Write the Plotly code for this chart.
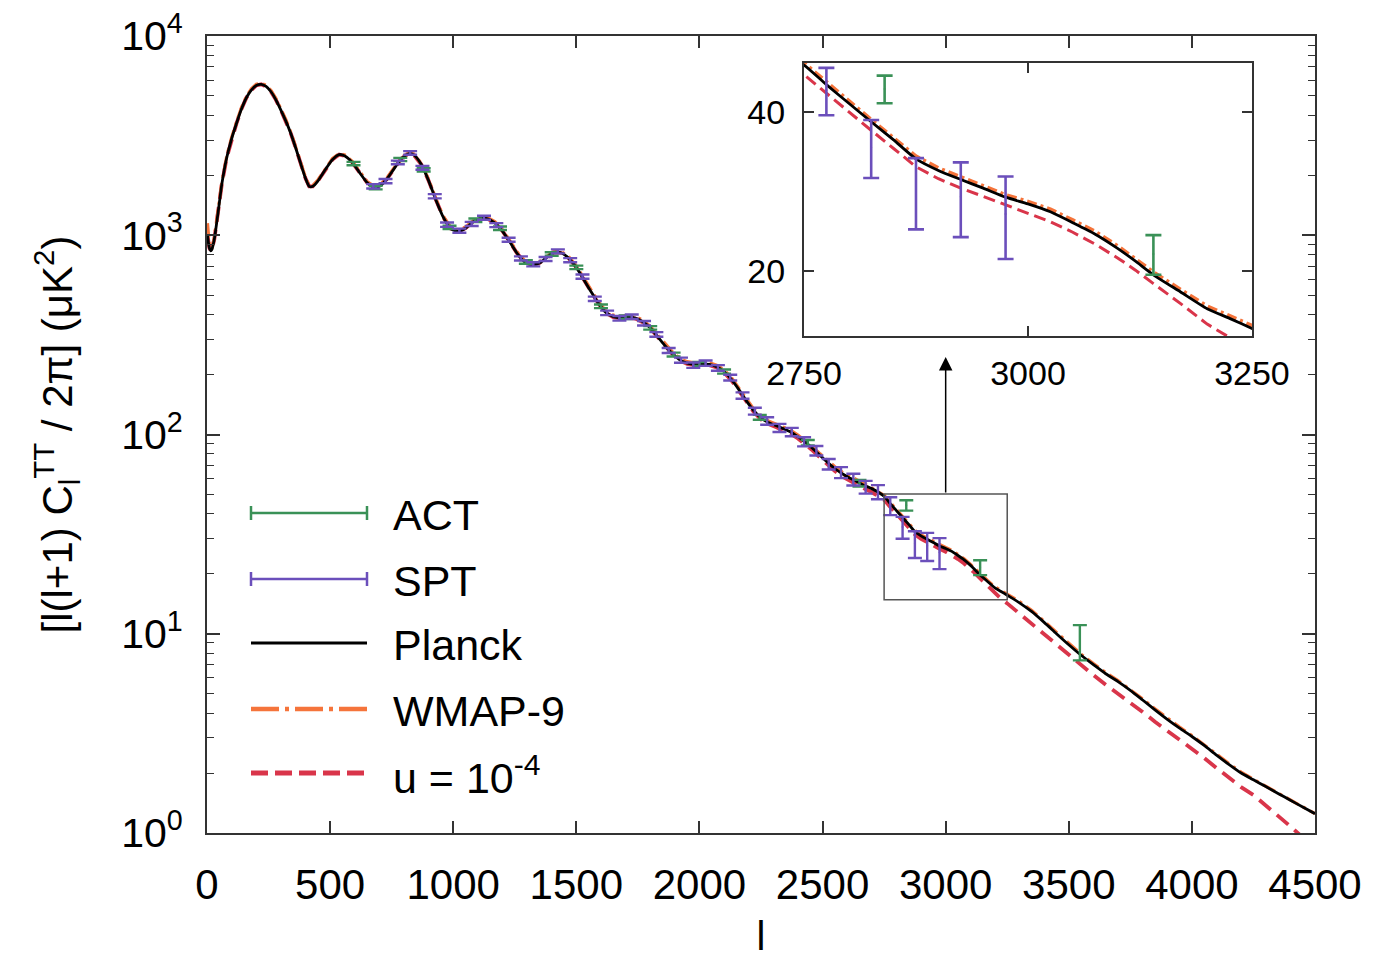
import math
import plotly.graph_objects as go

# ---------------- data ----------------
ell = [2, 5, 10, 15, 20, 30, 40, 50, 60, 80,
       100, 120, 140, 160, 180, 200, 220, 240, 260, 280,
       300, 320, 340, 360, 380, 400, 415, 430, 450, 480,
       510, 537, 560, 590, 620, 650, 680, 700, 730, 760,
       790, 820, 840, 870, 900, 930, 960, 990, 1020, 1050,
       1080, 1110, 1140, 1170, 1200, 1230, 1260, 1290, 1320, 1350,
       1380, 1410, 1440, 1470, 1500, 1530, 1560, 1590, 1620, 1650,
       1680, 1710, 1740, 1770, 1800, 1830, 1860, 1890, 1920, 1950,
       1980, 2010, 2040, 2070, 2100, 2130, 2160, 2190, 2220, 2250,
       2280, 2310, 2340, 2370, 2400, 2430, 2460, 2490, 2520, 2550,
       2580, 2610, 2640, 2670, 2700, 2730, 2750, 2775, 2800, 2825,
       2850, 2875, 2900, 2925, 2950, 2975, 3000, 3025, 3050, 3075,
       3100, 3120, 3140, 3170, 3200, 3225, 3250, 3300, 3350, 3400,
       3450, 3500, 3550, 3600, 3650, 3700, 3750, 3800, 3850, 3900,
       3950, 4000, 4050, 4100, 4150, 4200, 4250, 4300, 4350, 4400,
       4450, 4500]

planck = [1000, 930, 860, 835, 850, 960, 1170, 1450, 1800, 2450,
          3050, 3650, 4300, 4900, 5350, 5650, 5720, 5580, 5250, 4780,
          4250, 3750, 3250, 2750, 2300, 1930, 1760, 1760, 1870, 2130,
          2400, 2540, 2500, 2320, 2060, 1840, 1740, 1760, 1910, 2160,
          2430, 2570, 2530, 2270, 1880, 1500, 1230, 1080, 1045, 1085,
          1165, 1215, 1210, 1150, 1050, 925, 810, 735, 710, 725,
          775, 820, 815, 765, 690, 600, 520, 455, 410, 390,
          385, 388, 384, 368, 343, 310, 279, 255, 237, 228,
          225, 226, 225, 219, 207, 189, 168, 148, 132, 121,
          115, 111, 107, 103, 97.5, 91.5, 85, 78.5, 72.5, 67.5,
          63.5, 60.5, 58, 55.5, 53.5, 51, 49, 45, 41.5, 38.3,
          35.4, 32.6, 31.0, 29.8, 28.7, 27.6, 26.8, 25.9, 24.7, 23.5,
          22.1, 20.9, 19.7, 18.3, 17.0, 16.3, 15.6, 14.3, 12.9, 11.4,
          10.0, 8.8, 7.8, 7.0, 6.3, 5.75, 5.2, 4.65, 4.15, 3.72,
          3.36, 3.05, 2.75, 2.46, 2.21, 2.0, 1.85, 1.71, 1.58, 1.46,
          1.35, 1.25]

wmap9 = [1150, 1000, 880, 845, 860, 975, 1190, 1475, 1830, 2490,
         3100, 3710, 4370, 4980, 5430, 5730, 5800, 5660, 5330, 4850,
         4320, 3810, 3300, 2790, 2330, 1955, 1780, 1780, 1890, 2155,
         2430, 2570, 2530, 2350, 2085, 1860, 1760, 1780, 1935, 2185,
         2460, 2600, 2560, 2300, 1905, 1520, 1245, 1095, 1060, 1100,
         1180, 1232, 1228, 1168, 1066, 940, 823, 747, 721, 736,
         787, 833, 828, 778, 702, 611, 529, 463, 417, 397,
         392, 395, 391, 375, 349, 316, 284, 260, 241, 232,
         229, 230, 229, 223, 211, 193, 171, 151, 134.5, 123,
         117, 113, 109, 105, 99.4, 93.3, 86.7, 80, 74, 68.9,
         64.8, 61.7, 59.2, 56.6, 54.0, 51.5, 49.5, 45.5, 42.0, 38.7,
         35.8, 33.0, 31.35, 30.15, 29.0, 27.9, 27.1, 26.2, 25.0, 23.8,
         22.35, 21.15, 19.95, 18.5, 17.2, 16.5, 15.8, 14.5, 13.1, 11.55,
         10.15, 8.93, 7.9, 7.08, 6.38, 5.82, 5.26, 4.71, 4.2, 3.77,
         3.4, 3.08, 2.78, 2.49, 2.23, 2.02, 1.86, 1.72, 1.59, 1.46,
         1.35, 1.25]

u_1e4 = [1000, 930, 860, 835, 850, 960, 1170, 1450, 1800, 2450,
         3050, 3650, 4300, 4900, 5350, 5650, 5720, 5580, 5250, 4780,
         4250, 3750, 3250, 2750, 2300, 1930, 1760, 1760, 1870, 2130,
         2400, 2540, 2500, 2320, 2060, 1840, 1740, 1760, 1910, 2160,
         2430, 2570, 2530, 2270, 1880, 1500, 1230, 1080, 1045, 1085,
         1165, 1215, 1210, 1150, 1050, 925, 810, 735, 710, 725,
         775, 820, 815, 765, 690, 598, 518, 453, 408, 388,
         383, 386, 382, 366, 341, 308, 277, 253, 235, 226,
         223, 224, 223, 217, 205, 187, 166, 146, 130, 119,
         113, 109, 105, 101, 95.5, 89.5, 83, 76.5, 70.5, 65.5,
         61.5, 58.5, 56, 53.5, 51.3, 48.9, 47.0, 43.3, 39.9, 36.9,
         34.1, 31.5, 29.9, 28.7, 27.7, 26.7, 25.8, 24.8, 23.7, 22.5,
         21.2, 20.1, 18.96, 17.4, 15.9, 15.0, 14.2, 12.6, 11.3, 10.0,
         8.9, 7.85, 6.95, 6.2, 5.55, 5.0, 4.55, 4.05, 3.62, 3.26,
         2.95, 2.66, 2.38, 2.12, 1.9, 1.7, 1.55, 1.38, 1.22, 1.08,
         0.95, 0.84]

spt_l = [675, 725, 775, 825, 875, 925, 975, 1025, 1075, 1125,
         1175, 1225, 1275, 1325, 1375, 1425, 1475, 1525, 1575, 1625,
         1675, 1725, 1775, 1825, 1875, 1925, 1975, 2025, 2075, 2125,
         2175, 2225, 2275, 2325, 2375, 2425, 2475, 2525, 2575, 2625,
         2675, 2725, 2775, 2825, 2875, 2925, 2975]
spt_d = [1760, 1870, 2320, 2590, 2180, 1570, 1130, 1055, 1140, 1225,
         1125, 950, 765, 715, 760, 830, 750, 620, 480, 408,
         383, 390, 362, 318, 264, 236, 223, 228, 216, 193,
         157, 131, 117, 108, 103, 92, 83, 71, 64.5, 59.5,
         54.5, 51.5, 43.9, 34.3, 28.35, 27.65, 25.65]
spt_err = [45, 45, 50, 55, 50, 38, 28, 25, 27, 28,
           26, 22, 18, 17, 18, 19, 18, 15, 12, 10.5,
           10, 10, 9.5, 8.5, 7.5, 7, 7, 7, 7, 6.5,
           5.8, 5.2, 5, 5, 5, 4.8, 4.6, 4.3, 4.1, 4.0,
           4.0, 4.2, 4.5, 4.3, 4.35, 4.45, 4.55]

act_l = [595, 685, 785, 880, 985, 1090, 1190, 1295, 1400, 1500,
         1600, 1700, 1800, 1895, 2000, 2100, 2245, 2440, 2650, 2840,
         3140, 3545]
act_d = [2290, 1735, 2400, 2130, 1095, 1190, 1085, 735, 805, 690,
         440, 388, 343, 252, 226, 207, 122, 91, 57, 44.15,
         21.55, 9.2]
act_err = [45, 35, 45, 40, 22, 24, 22, 15, 16, 14,
           9, 8, 7, 5.5, 5, 5, 3.5, 2.8, 2.2, 2.65,
           1.85, 1.85]

legend_names = ["ACT", "SPT", "Planck", "WMAP-9", "u = 10<sup>-4</sup>"]
x_ticks = [0, 500, 1000, 1500, 2000, 2500, 3000, 3500, 4000, 4500]
y_ticks = [1, 10, 100, 1000, 10000]
y_ticktext = ["10<sup>0</sup>", "10<sup>1</sup>", "10<sup>2</sup>", "10<sup>3</sup>", "10<sup>4</sup>"]
inset_xticks = [2750, 3000, 3250]
inset_yticks = [20, 40]

# ---------------- styles / geometry ----------------
C_ACT = "#3a9157"
C_SPT = "#6b4fbb"
C_WMAP = "#f5743b"
C_U = "#d9354a"
C_FRAME = "#333333"
FONT = "Liberation Sans, Arial, Helvetica, sans-serif"

OFF = 8                      # page body margin of the browser
W, H = 1383 - OFF, 958 - OFF
ML, MR, MT, MB = 207 - OFF, 68, 36 - OFF, 125
PW, PH = W - ML - MR, H - MT - MB


def px2paper(px, py):
    """screen pixel -> paper coordinates"""
    fx, fy = px - OFF, py - OFF
    return (fx - ML) / PW, (H - MB - fy) / PH


fig = go.Figure()


def add_set(xa, ya, main):
    fig.add_trace(go.Scatter(x=ell, y=u_1e4, mode="lines", name=legend_names[4],
                             line=dict(color=C_U, width=3.8 if main else 3,
                                       dash="15px,8px" if main else "12px,6px"),
                             xaxis=xa, yaxis=ya, showlegend=False))
    fig.add_trace(go.Scatter(x=ell, y=wmap9, mode="lines", name="WMAP-9",
                             line=dict(color=C_WMAP, width=3.2 if main else 3.5,
                                       dash="14px,5px,3px,5px" if main else "10px,4px,3px,4px"),
                             xaxis=xa, yaxis=ya, showlegend=False))
    fig.add_trace(go.Scatter(x=ell, y=planck, mode="lines", name="Planck",
                             line=dict(color="black", width=2.8, shape="spline", smoothing=0.6),
                             xaxis=xa, yaxis=ya, showlegend=False))
    for lx, ly, le, col, nm in [(act_l, act_d, act_err, C_ACT, "ACT"),
                                (spt_l, spt_d, spt_err, C_SPT, "SPT")]:
        fig.add_trace(go.Scatter(x=lx, y=ly, mode="markers", name=nm,
                                 marker=dict(size=2, color=col),
                                 error_y=dict(type="data", array=le, visible=True, color=col,
                                              thickness=2.4 if main else 2.6,
                                              width=7 if main else 8),
                                 xaxis=xa, yaxis=ya, showlegend=False))


add_set("x", "y", True)
add_set("x2", "y2", False)

axis_common = dict(showline=True, linecolor=C_FRAME, linewidth=2, mirror="allticks",
                   ticks="inside", tickcolor=C_FRAME, tickwidth=1.5, showgrid=False,
                   zeroline=False, automargin=False, ticklabeloverflow="allow")

minor_vals = [m * 10 ** e for e in range(0, 4) for m in range(2, 10)]

fig.update_layout(
    width=W, height=H,
    margin=dict(l=ML, r=MR, t=MT, b=MB),
    paper_bgcolor="white", plot_bgcolor="white",
    font=dict(family=FONT, color="black"),
    showlegend=False,
    xaxis=dict(domain=[0, 1], range=[0, 4500], tickmode="array", tickvals=x_ticks,
               ticklen=12, tickfont=dict(size=42), ticklabelstandoff=14,
               title=dict(text="l", font=dict(size=40), standoff=22),
               anchor="y", **axis_common),
    yaxis=dict(domain=[0, 1], type="log", range=[0, 4], tickmode="array",
               tickvals=y_ticks, ticktext=y_ticktext, ticklen=13,
               tickfont=dict(size=41), ticklabelstandoff=14,
               minor=dict(tickmode="array", tickvals=minor_vals, ticks="inside", ticklen=7,
                          tickcolor=C_FRAME, tickwidth=1.2, showgrid=False),
               title=dict(text="[l(l+1) C<sub>l</sub><sup>TT</sup> / 2π] (μK<sup>2</sup>)",
                          font=dict(size=42), standoff=36),
               anchor="x", **axis_common),
    xaxis2=dict(domain=[0.5388, 0.9431], range=[2750, 3250], tickmode="array",
                tickvals=inset_xticks, ticklen=10, tickfont=dict(size=34),
                ticklabelstandoff=6, anchor="y2", **axis_common),
    yaxis2=dict(domain=[0.6236, 0.9665], type="log",
                range=[math.log10(15.1), math.log10(49.5)], tickmode="array",
                tickvals=inset_yticks, ticktext=[str(v) for v in inset_yticks],
                ticklen=10, tickfont=dict(size=34), ticklabelstandoff=10,
                anchor="x2", **axis_common),
)

# zoom box on the main plot
fig.add_shape(type="rect", xref="x", yref="y", x0=2750, x1=3250, y0=14.8, y1=50.3,
              line=dict(color="#555555", width=1.5), layer="above")

# arrow from the box to the inset
fig.add_annotation(x=3000, y=math.log10(245), ax=3000, ay=math.log10(50.3),
                   xref="x", yref="y", axref="x", ayref="y", text="",
                   showarrow=True, arrowhead=2, arrowsize=1.8, arrowwidth=1.5,
                   arrowcolor="black")

# legend drawn by hand (gnuplot style: long sample lines)
leg_y = [513, 579, 643, 709, 773]
leg_x0, leg_x1, leg_tx = 251, 367, 391
leg_styles = [
    dict(color=C_ACT, width=2.5, dash="solid", caps=True),
    dict(color=C_SPT, width=2.5, dash="solid", caps=True),
    dict(color="black", width=3, dash="solid", caps=False),
    dict(color=C_WMAP, width=4.5, dash="28px,6px,4px,6px", caps=False),
    dict(color=C_U, width=5, dash="17px,7px", caps=False),
]
for name, py, st in zip(legend_names, leg_y, leg_styles):
    xa, ya = px2paper(leg_x0, py)
    xb, _ = px2paper(leg_x1, py)
    fig.add_shape(type="line", xref="paper", yref="paper", x0=xa, x1=xb, y0=ya, y1=ya,
                  line=dict(color=st["color"], width=st["width"], dash=st["dash"]))
    if st["caps"]:
        for cx in (leg_x0, leg_x1):
            cxp, cy0 = px2paper(cx, py - 7)
            _, cy1 = px2paper(cx, py + 7)
            fig.add_shape(type="line", xref="paper", yref="paper", x0=cxp, x1=cxp,
                          y0=cy0, y1=cy1, line=dict(color=st["color"], width=2.5))
    tx, ty = px2paper(leg_tx, py + 2)
    fig.add_annotation(x=tx, y=ty, xref="paper", yref="paper", text=name,
                       showarrow=False, xanchor="left", yanchor="middle",
                       font=dict(size=43, family=FONT, color="black"))

fig.write_html("out.html")
